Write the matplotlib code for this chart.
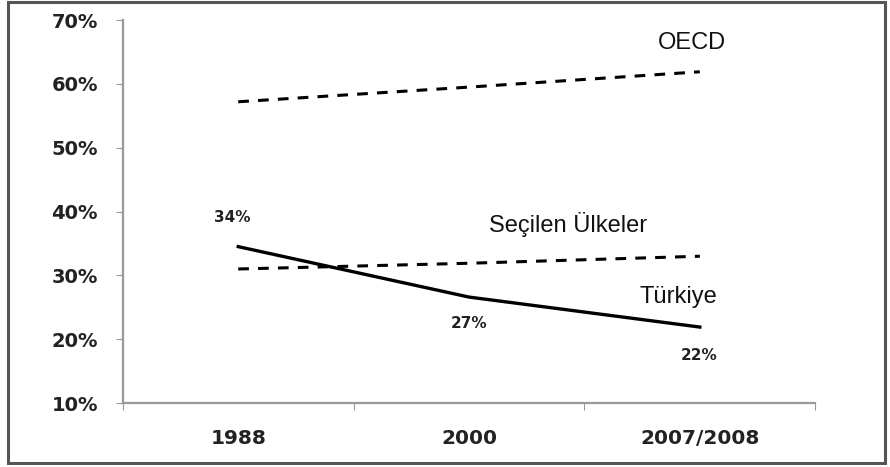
import matplotlib.pyplot as plt
from matplotlib.patches import Rectangle

years = ["1988", "2000", "2007/2008"]
oecd = [57.2, 59.5, 61.9]
secilen = [31.0, 31.9, 33.0]
turkiye = [34.5, 26.6, 21.9]
turkiye_labels = ["34%", "27%", "22%"]
yticks = [10, 20, 30, 40, 50, 60, 70]

fig = plt.figure(figsize=(8.9, 4.67), dpi=100)
ax = fig.add_axes([0.138, 0.137, 0.778, 0.820])

x = range(len(years))
ax.plot(x, oecd, color="black", lw=2.2, ls=(0, (3.5, 3)))
ax.plot(x, secilen, color="black", lw=2.2, ls=(0, (3.5, 3)))
ax.plot(x, turkiye, color="black", lw=2.4)

ax.set_xlim(-0.5, 2.5)
ax.set_ylim(10, 70)
ax.set_yticks(yticks)
ax.set_yticklabels([f"{v}%" for v in yticks], fontsize=14, fontweight="bold", color="#222222")
ax.set_xticks([-0.5, 0.5, 1.5, 2.5])
ax.set_xticklabels([])
ax.set_xticks(list(x), minor=True)
ax.set_xticklabels(years, minor=True, fontsize=14.5, fontweight="bold", color="#222222")
ax.tick_params(axis="x", which="minor", length=0, pad=19)
ax.tick_params(axis="x", which="major", length=5, color="#999999")
ax.tick_params(axis="y", length=5, color="#999999", pad=13)

for s in ["top", "right"]:
    ax.spines[s].set_visible(False)
for s in ["left", "bottom"]:
    ax.spines[s].set_color("#999999")
    ax.spines[s].set_linewidth(1.6)

# etiketler (Türkiye değerleri)
lab_pos = [(-0.027, 39.0), (1.0, 22.5), (1.997, 17.5)]
for (lx, ly), lab in zip(lab_pos, turkiye_labels):
    ax.text(lx, ly, lab, ha="center", va="center", fontsize=11, fontweight="bold", color="#222222")

ax.text(1.966, 66.4, "OECD", ha="center", va="center", fontsize=17, family="Liberation Sans", color="#111111")
ax.text(1.429, 37.9, "Seçilen Ülkeler", ha="center", va="center", fontsize=17, family="Liberation Sans", color="#111111")
ax.text(1.906, 26.6, "Türkiye", ha="center", va="center", fontsize=17, family="Liberation Sans", color="#111111")

fig.patches.append(Rectangle((0.009, 0.008), 0.985, 0.987, transform=fig.transFigure,
                             fill=False, edgecolor="#555555", lw=2.2))

fig.savefig("out.png", dpi=100)
